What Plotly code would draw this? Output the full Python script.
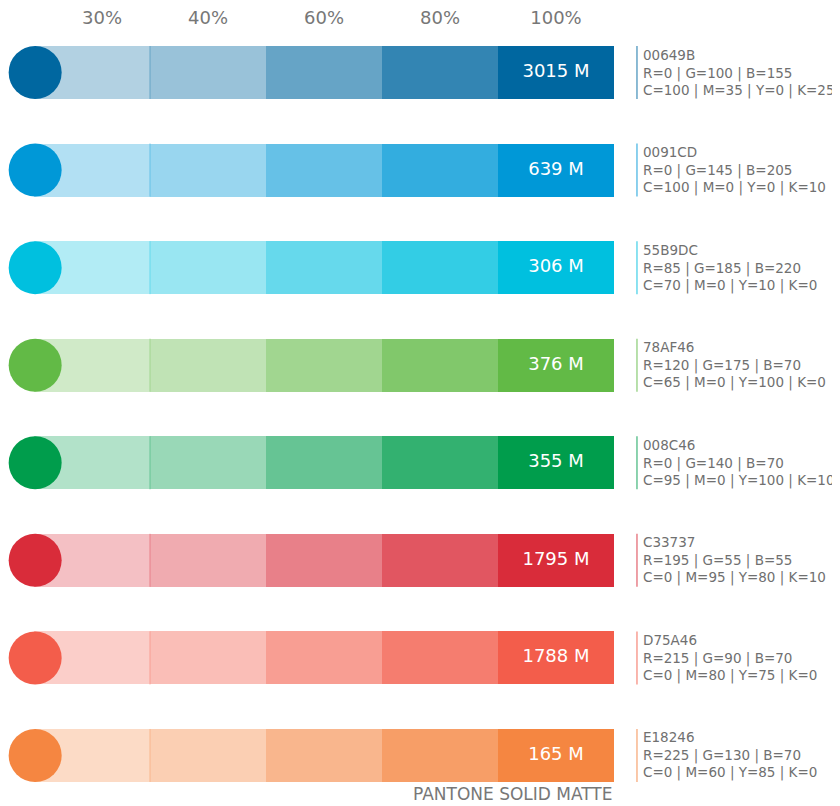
import plotly.graph_objects as go

# ---- data ----
tints = ["30%", "40%", "60%", "80%", "100%"]
tint_levels = [0.3, 0.4, 0.6, 0.8, 1.0]
values = [3015, 639, 306, 376, 355, 1795, 1788, 165]
hex_codes = ["00649B", "0091CD", "55B9DC", "78AF46", "008C46", "C33737", "D75A46", "E18246"]
rgb_values = [(0, 100, 155), (0, 145, 205), (85, 185, 220), (120, 175, 70),
              (0, 140, 70), (195, 55, 55), (215, 90, 70), (225, 130, 70)]
cmyk_values = [(100, 35, 0, 25), (100, 0, 0, 10), (70, 0, 10, 0), (65, 0, 100, 0),
               (95, 0, 100, 10), (0, 95, 80, 10), (0, 80, 75, 0), (0, 60, 85, 0)]
display_colors = [(0, 103, 160), (0, 152, 215), (0, 192, 223), (98, 186, 70),
                  (0, 157, 76), (217, 44, 58), (243, 93, 75), (245, 134, 65)]
footer = "PANTONE SOLID MATTE"

# ---- style ----
FONT = "DejaVu Sans"
GRAY = "#777777"
BAR_H = 0.543
SEG_W = 1.0


def tint(rgb, a):
    return "rgb(%d,%d,%d)" % tuple(round(c * a + 255 * (1 - a)) for c in rgb)


n = len(values)
rows = list(range(n))
fig = go.Figure()

# stacked tint segments
for j, (t, a) in enumerate(zip(tints, tint_levels)):
    fig.add_trace(go.Bar(
        y=rows, x=[SEG_W] * n, base=[j * SEG_W] * n, orientation="h",
        width=BAR_H, marker=dict(color=[tint(c, a) for c in display_colors], line=dict(width=0)),
        hoverinfo="skip", showlegend=False,
    ))

# thin divider after first segment
for i, c in enumerate(display_colors):
    fig.add_shape(type="line", x0=SEG_W, x1=SEG_W, y0=i - BAR_H / 2, y1=i + BAR_H / 2,
                  line=dict(color=tint(c, 0.6), width=1))

# circles
fig.add_trace(go.Scatter(
    x=[0.01] * n, y=rows, mode="markers",
    marker=dict(size=53, color=[tint(c, 1) for c in display_colors], line=dict(width=0)),
    hoverinfo="skip", showlegend=False,
))

# value labels
fig.add_trace(go.Scatter(
    x=[4.5 * SEG_W] * n, y=rows, mode="text",
    text=["%d M" % v for v in values],
    textfont=dict(family=FONT, size=18, color="white"),
    hoverinfo="skip", showlegend=False,
))

# info blocks on the right
for i in rows:
    r, g, b = rgb_values[i]
    cc, m, yy, k = cmyk_values[i]
    fig.add_shape(type="line", x0=5.198, x1=5.198, y0=i - BAR_H / 2, y1=i + BAR_H / 2,
                  line=dict(color=tint(display_colors[i], 0.6), width=1.5))
    fig.add_annotation(
        x=5.235, y=i, xanchor="left", yanchor="middle", align="left", showarrow=False,
        text="%s<br>R=%d | G=%d | B=%d<br>C=%d | M=%d | Y=%d | K=%d" % (hex_codes[i], r, g, b, cc, m, yy, k),
        font=dict(family=FONT, size=13.5, color="#707070"),
    )

fig.add_annotation(
    x=5 * SEG_W, y=7.39, xanchor="right", yanchor="middle", showarrow=False,
    text=footer, font=dict(family=FONT, size=17, color=GRAY),
)

fig.update_layout(
    width=840, height=806,
    margin=dict(l=0, r=0, t=25, b=0),
    paper_bgcolor="white", plot_bgcolor="white",
    barmode="overlay", bargap=0,
    xaxis=dict(range=[-26 / 116, 814 / 116], side="top", showgrid=False, zeroline=False,
               showline=False, ticks="", tickvals=[0.586, 1.5, 2.5, 3.5, 4.5], ticktext=tints,
               tickfont=dict(family=FONT, size=18, color=GRAY), ticklabelstandoff=4),
    yaxis=dict(range=[7.600, -0.405], showgrid=False, zeroline=False, showline=False,
               showticklabels=False, ticks=""),
    font=dict(family=FONT),
)

fig.write_html("out.html")
